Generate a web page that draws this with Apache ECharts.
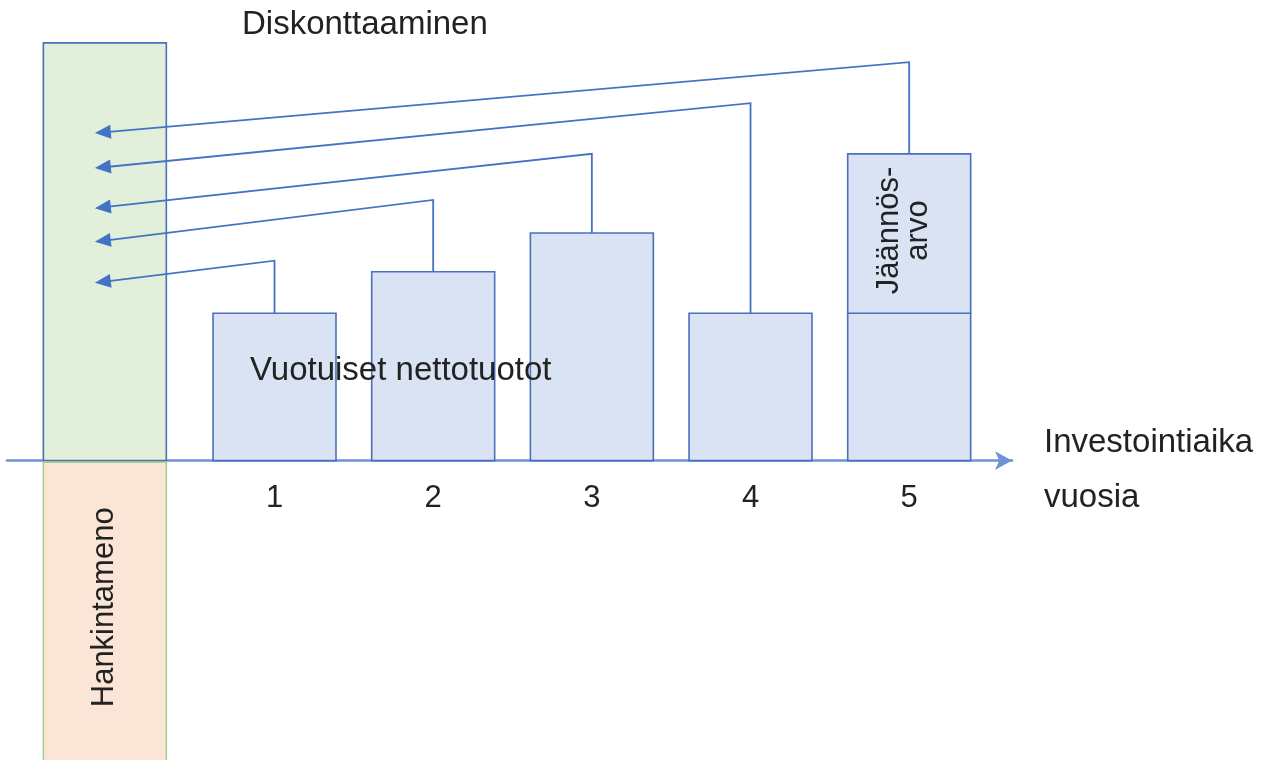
<!DOCTYPE html>
<html>
<head>
<meta charset="utf-8">
<title>Diskonttaaminen</title>
<script src="https://cdn.jsdelivr.net/npm/echarts@6.0.0/dist/echarts.min.js"></script>
<style>
  html, body { margin: 0; padding: 0; background: #fff; }
  #chart { width: 1271px; height: 760px; }
</style>
</head>
<body>
<div id="chart"></div>
<script>
// data (schematic units)
var years = [1, 2, 3, 4, 5];
var tickLabels = ['1', '2', '3', '4', '5'];
var netIncome = [32, 41, 49.4, 32, 32];
var residualValue = 34.6;          // jäännösarvo, year 5
var presentValue = 90.7;           // discounted sum, year 0
var acquisitionCost = -70;         // hankintameno, year 0
var leaderTop = [43.4, 56.6, 66.6, 77.6, 86.5];
var arrowTarget = [38.6, 47.5, 54.8, 63.5, 71.1];

// look
var FONT = '"Liberation Sans", Arial, sans-serif';
var TEXT = '#222222';
var BLUE = '#4a70bd';
var BAR_FILL = '#dae3f3';
var BAR_W = 0.775;                 // in years
var INVEST_SHIFT = -11;            // px, the year 0 column sits a bit left
var TIP_SHIFT = -21;               // px, arrow tips inside the green column

var chart = echarts.init(document.getElementById('chart'));

function rect(x, y, w, h, fill, stroke) {
  return {
    type: 'rect',
    shape: { x: x, y: y, width: w, height: h },
    style: { fill: fill, stroke: stroke, lineWidth: 1.6 }
  };
}

function vtext(x, y, str, size, lh) {
  return {
    type: 'text',
    x: x, y: y,
    rotation: Math.PI / 2,
    style: {
      text: str, fill: TEXT, fontSize: size, fontFamily: FONT,
      align: 'center', verticalAlign: 'middle', lineHeight: lh || size
    }
  };
}

function htext(x, y, str) {
  return {
    type: 'text', x: x, y: y, z: 100,
    style: { text: str, fill: TEXT, fontSize: 33, fontFamily: FONT, verticalAlign: 'middle' }
  };
}

var option = {
  animation: false,
  grid: { left: 7, right: 259, top: 0, bottom: 0 },
  xAxis: {
    type: 'value', min: -0.686, max: 5.648,
    axisLine: {
      show: true, onZero: true,
      symbol: ['none', 'arrow'], symbolSize: [14, 17],
      lineStyle: { color: '#6f94d6', width: 2.5 }
    },
    axisTick: { show: false },
    axisLabel: { show: false },
    splitLine: { show: false }
  },
  yAxis: {
    type: 'value', min: -65, max: 100,
    axisLine: { show: false }, axisTick: { show: false },
    axisLabel: { show: false }, splitLine: { show: false }
  },
  graphic: [
    htext(242, 25, 'Diskonttaaminen'),
    htext(1044, 443, 'Investointiaika'),
    htext(1044, 498, 'vuosia'),
    htext(250, 371, 'Vuotuiset nettotuotot')
  ],
  series: [
    {
      // hankintameno + nykyarvo
      type: 'custom',
      data: [[0, presentValue, acquisitionCost]],
      renderItem: function(params, api) {
        var x = api.value(0);
        var top = api.coord([x, api.value(1)]);
        var base = api.coord([x, 0]);
        var bottom = api.coord([x, api.value(2)]);
        var w = api.size([BAR_W, 0])[0];
        var left = base[0] - w / 2 + INVEST_SHIFT;
        var visBottom = Math.min(bottom[1], params.coordSys.y + params.coordSys.height);
        return {
          type: 'group',
          children: [
            rect(left, top[1], w, base[1] - top[1], '#e2efda', BLUE),
            rect(left, base[1] + 1.5, w, bottom[1] - base[1], '#fbe5d6', '#a9d18e'),
            vtext(left + w / 2, (base[1] + visBottom) / 2 - 3, 'Hankintameno', 31)
          ]
        };
      }
    },
    {
      // vuotuiset nettotuotot
      type: 'custom',
      data: years.map(function(y, i) { return [y, netIncome[i]]; }),
      renderItem: function(params, api) {
        var top = api.coord([api.value(0), api.value(1)]);
        var base = api.coord([api.value(0), 0]);
        var w = api.size([BAR_W, 0])[0];
        return rect(base[0] - w / 2, top[1], w, base[1] - top[1], BAR_FILL, BLUE);
      }
    },
    {
      // jäännösarvo on top of year 5
      type: 'custom',
      data: [[5, netIncome[4], netIncome[4] + residualValue]],
      renderItem: function(params, api) {
        var lo = api.coord([api.value(0), api.value(1)]);
        var hi = api.coord([api.value(0), api.value(2)]);
        var w = api.size([BAR_W, 0])[0];
        return {
          type: 'group',
          children: [
            rect(lo[0] - w / 2, hi[1], w, lo[1] - hi[1], BAR_FILL, BLUE),
            vtext(lo[0] - 5, (lo[1] + hi[1]) / 2 - 3, 'Jäännös-\narvo', 31, 29)
          ]
        };
      }
    },
    {
      // discounting arrows back to year 0
      type: 'custom',
      data: years.map(function(y, i) {
        var start = netIncome[i] + (i === 4 ? residualValue : 0);
        return [y, start, leaderTop[i], arrowTarget[i]];
      }),
      renderItem: function(params, api) {
        var p0 = api.coord([api.value(0), api.value(1)]);
        var p1 = api.coord([api.value(0), api.value(2)]);
        var tip = api.coord([0, api.value(3)]);
        tip[0] += TIP_SHIFT;
        var dx = tip[0] - p1[0], dy = tip[1] - p1[1];
        var len = Math.sqrt(dx * dx + dy * dy);
        var ux = dx / len, uy = dy / len;
        var hl = 16, hw = 7;
        var bx = tip[0] - ux * hl, by = tip[1] - uy * hl;
        return {
          type: 'group',
          children: [
            {
              type: 'polyline',
              shape: { points: [p0, p1, [bx + ux * 2, by + uy * 2]] },
              style: { stroke: '#4472c4', lineWidth: 1.8, fill: 'none' }
            },
            {
              type: 'polygon',
              shape: { points: [tip, [bx - uy * hw, by + ux * hw], [bx + uy * hw, by - ux * hw]] },
              style: { fill: '#4472c4' }
            }
          ]
        };
      }
    },
    {
      // year labels under the axis
      type: 'custom',
      data: years.map(function(y, i) { return [y, 0, i]; }),
      renderItem: function(params, api) {
        var p = api.coord([api.value(0), api.value(1)]);
        return {
          type: 'text',
          x: p[0], y: p[1] + 38,
          style: {
            text: tickLabels[api.value(2)], fill: TEXT, fontSize: 31, fontFamily: FONT,
            align: 'center', verticalAlign: 'middle'
          }
        };
      }
    }
  ]
};

chart.setOption(option);
</script>
</body>
</html>
